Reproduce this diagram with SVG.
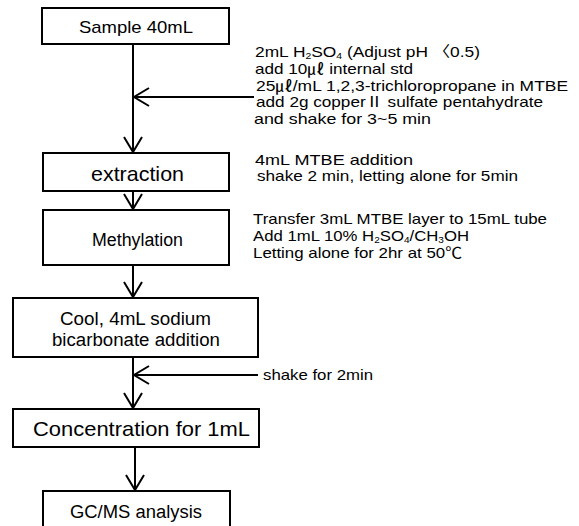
<svg xmlns="http://www.w3.org/2000/svg" width="579" height="526" viewBox="0 0 579 526">
<defs>
<style>
.box{fill:#fff;stroke:#000;stroke-width:2}
.lbl{font-family:"Liberation Sans","Noto Sans CJK KR",Arial,sans-serif;fill:#000}
.note{font-family:"Liberation Sans","Noto Sans CJK KR",Arial,sans-serif;font-size:15px;fill:#000}
.sub{font-size:9px}
.con{fill:none;stroke:#000;stroke-width:2}
</style>
<marker id="ah" viewBox="-17 -11 19 22" refX="0" refY="0" markerWidth="19" markerHeight="22" markerUnits="userSpaceOnUse" orient="auto">
<path d="M-15,-9 L0,0 L-15,9" fill="none" stroke="#000" stroke-width="2"/>
</marker>
</defs>
<rect width="579" height="526" fill="#fff"/>

<g id="connectors">
<line class="con" x1="133" y1="44" x2="133" y2="152" marker-end="url(#ah)"/>
<line class="con" x1="254" y1="97" x2="134" y2="97" marker-end="url(#ah)"/>
<line class="con" x1="133" y1="191" x2="133" y2="209" marker-end="url(#ah)"/>
<line class="con" x1="133" y1="265" x2="133" y2="297" marker-end="url(#ah)"/>
<line class="con" x1="133" y1="357" x2="133" y2="408" marker-end="url(#ah)"/>
<line class="con" x1="258" y1="375" x2="134" y2="375" marker-end="url(#ah)"/>
<line class="con" x1="135" y1="447" x2="135" y2="490" marker-end="url(#ah)"/>
</g>

<g id="n1">
<rect class="box" x="42" y="8" width="187" height="36"/>
<text class="lbl" x="79" y="33" font-size="17" textLength="114" lengthAdjust="spacingAndGlyphs">Sample 40mL</text>
</g>
<g id="n2">
<rect class="box" x="43" y="153" width="186" height="38"/>
<text class="lbl" x="91" y="181" font-size="21" textLength="93" lengthAdjust="spacingAndGlyphs">extraction</text>
</g>
<g id="n3">
<rect class="box" x="43" y="210" width="186" height="55"/>
<text class="lbl" x="92" y="246" font-size="18" textLength="91" lengthAdjust="spacingAndGlyphs">Methylation</text>
</g>
<g id="n4">
<rect class="box" x="13" y="298" width="245" height="59"/>
<text class="lbl" x="60" y="325" font-size="18" textLength="151" lengthAdjust="spacingAndGlyphs">Cool, 4mL sodium</text>
<text class="lbl" x="52" y="346" font-size="18" textLength="168" lengthAdjust="spacingAndGlyphs">bicarbonate addition</text>
</g>
<g id="n5">
<rect class="box" x="13" y="409" width="246" height="38"/>
<text class="lbl" x="33" y="436" font-size="21" textLength="217" lengthAdjust="spacingAndGlyphs">Concentration for 1mL</text>
</g>
<g id="n6">
<rect class="box" x="43" y="491" width="187" height="45"/>
<text class="lbl" x="70" y="518" font-size="18" textLength="132" lengthAdjust="spacingAndGlyphs">GC/MS analysis</text>
</g>

<g id="notes">
<text class="note" x="255" y="57" textLength="225" lengthAdjust="spacingAndGlyphs">2mL H<tspan class="sub" baseline-shift="-2">2</tspan>SO<tspan class="sub" baseline-shift="-2">4</tspan> (Adjust pH 〈0.5)</text>
<text class="note" x="255" y="74" textLength="158" lengthAdjust="spacingAndGlyphs">add 10㎕ internal std</text>
<text class="note" x="256" y="91" textLength="312" lengthAdjust="spacingAndGlyphs">25㎕/mL 1,2,3-trichloropropane in MTBE</text>
<text class="note" x="256" y="107" textLength="287" lengthAdjust="spacingAndGlyphs">add 2g copperⅡ sulfate pentahydrate</text>
<text class="note" x="254" y="124" textLength="177" lengthAdjust="spacingAndGlyphs">and shake for 3~5 min</text>
<text class="note" x="255" y="165" textLength="158" lengthAdjust="spacingAndGlyphs">4mL MTBE addition</text>
<text class="note" x="257" y="181" textLength="261" lengthAdjust="spacingAndGlyphs">shake 2 min, letting alone for 5min</text>
<text class="note" x="253" y="224" textLength="294" lengthAdjust="spacingAndGlyphs">Transfer 3mL MTBE layer to 15mL tube</text>
<text class="note" x="253" y="241" textLength="216" lengthAdjust="spacingAndGlyphs">Add 1mL 10% H<tspan class="sub" baseline-shift="-2">2</tspan>SO<tspan class="sub" baseline-shift="-2">4</tspan>/CH<tspan class="sub" baseline-shift="-2">3</tspan>OH</text>
<text class="note" x="253" y="258" textLength="209" lengthAdjust="spacingAndGlyphs">Letting alone for 2hr at 50℃</text>
<text class="note" x="263" y="380" textLength="110" lengthAdjust="spacingAndGlyphs">shake for 2min</text>
</g>
</svg>
